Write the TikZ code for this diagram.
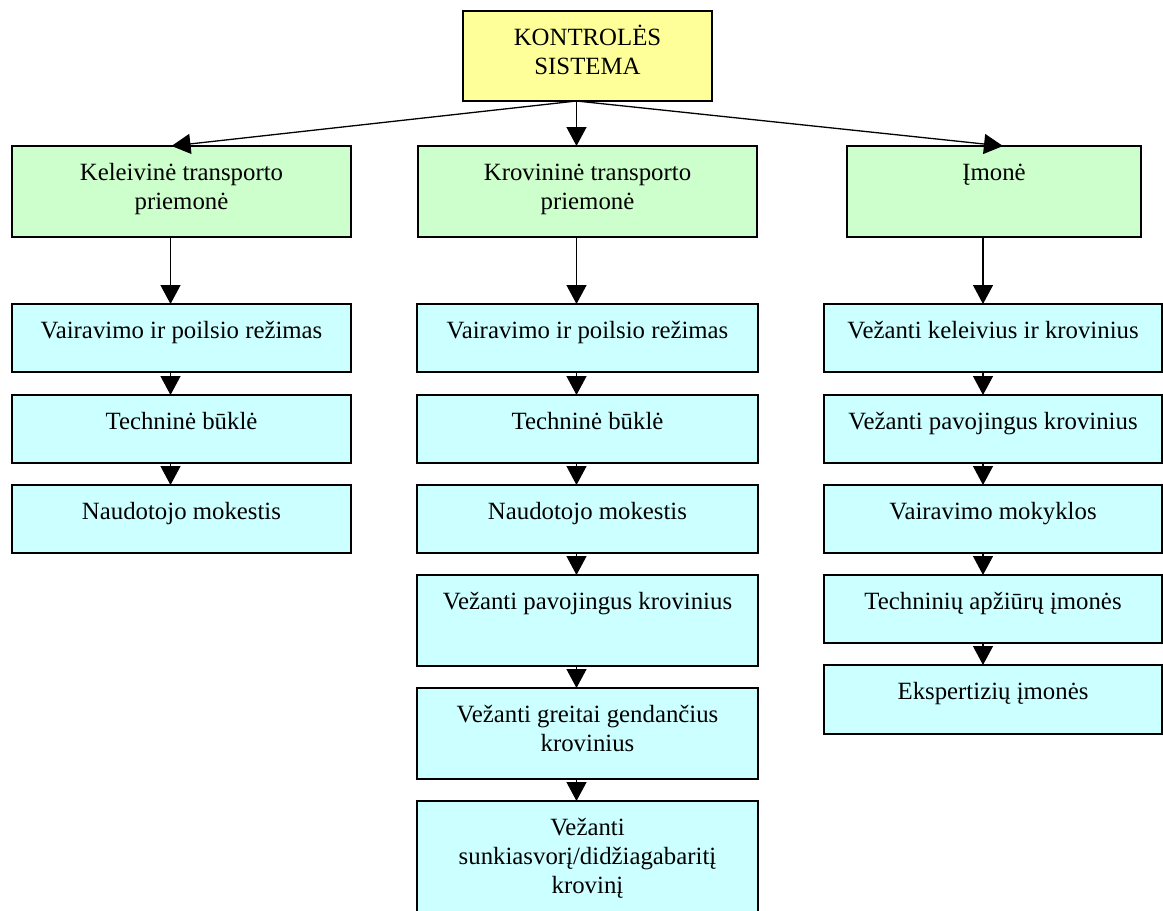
\documentclass[tikz,border=0pt]{standalone}
\usepackage{fontspec}
\setmainfont{Liberation Serif}
\usetikzlibrary{arrows.meta,calc}
\definecolor{yelc}{HTML}{FFFF99}
\definecolor{grnc}{HTML}{CCFFCC}
\definecolor{cync}{HTML}{CCFFFF}
\newcommand{\boxtxt}[3]{\parbox[c][#2][t]{#1}{\centering\rule{0pt}{34pt}#3\par}}
\tikzset{
  basebox/.style={draw=black, line width=1.3pt, inner sep=0pt, outer sep=0pt, anchor=north west},
  topbox/.style={basebox, fill=yelc},
  gbox/.style={basebox, fill=grnc},
  cbox/.style={basebox, fill=cync},
  arr/.style={-{Triangle[length=19pt,width=20pt]}, line width=1.3pt}
}
\begin{document}
\begin{tikzpicture}[x=1pt,y=-1pt,font=\fontsize{24.8pt}{29pt}\selectfont]
\clip (0,0) rectangle (1163,911);
\fill[white] (0,0) rectangle (1163,911);
% top
\node[topbox] (top) at (463,11) {\boxtxt{249pt}{90pt}{KONTROLĖS\\SISTEMA}};
% second level
\node[gbox] (g1) at (12,146) {\boxtxt{339pt}{91pt}{Keleivinė transporto\\priemonė}};
\node[gbox] (g2) at (418,146) {\boxtxt{339pt}{91pt}{Krovininė transporto\\priemonė}};
\node[gbox] (g3) at (847,146) {\boxtxt{294pt}{91pt}{Įmonė}};
% left column
\node[cbox] (a1) at (12,304) {\boxtxt{339pt}{68pt}{Vairavimo ir poilsio režimas}};
\node[cbox] (a2) at (12,395) {\boxtxt{339pt}{68pt}{Techninė būklė}};
\node[cbox] (a3) at (12,485) {\boxtxt{339pt}{68pt}{Naudotojo mokestis}};
% middle column
\node[cbox] (b1) at (417,304) {\boxtxt{341pt}{68pt}{Vairavimo ir poilsio režimas}};
\node[cbox] (b2) at (417,395) {\boxtxt{341pt}{68pt}{Techninė būklė}};
\node[cbox] (b3) at (417,485) {\boxtxt{341pt}{68pt}{Naudotojo mokestis}};
\node[cbox] (b4) at (417,575) {\boxtxt{341pt}{91pt}{Vežanti pavojingus krovinius}};
\node[cbox] (b5) at (417,688) {\boxtxt{341pt}{91pt}{Vežanti greitai gendančius\\krovinius}};
\node[cbox] (b6) at (417,801) {\boxtxt{341pt}{140pt}{Vežanti\\sunkiasvorį/didžiagabaritį\\krovinį}};
% right column
\node[cbox] (c1) at (824,304) {\boxtxt{338pt}{68pt}{Vežanti keleivius ir krovinius}};
\node[cbox] (c2) at (824,395) {\boxtxt{338pt}{68pt}{Vežanti pavojingus krovinius}};
\node[cbox] (c3) at (824,485) {\boxtxt{338pt}{68pt}{Vairavimo mokyklos}};
\node[cbox] (c4) at (824,575) {\boxtxt{338pt}{68pt}{Techninių apžiūrų įmonės}};
\node[cbox] (c5) at (824,665) {\boxtxt{338pt}{69pt}{Ekspertizių įmonės}};
% connectors from top
\draw[arr] ([xshift=-11pt]top.south) -- ([xshift=-10pt]g1.north);
\draw[arr] ([xshift=-11pt]top.south) -- ([xshift=-11pt]g2.north);
\draw[arr] ([xshift=-11pt]top.south) -- ([xshift=9pt]g3.north);
% left chain
\draw[arr] ([xshift=-11pt]g1.south) -- ([xshift=-11pt]a1.north);
\draw[arr] ([xshift=-11pt]a1.south) -- ([xshift=-11pt]a2.north);
\draw[arr] ([xshift=-11pt]a2.south) -- ([xshift=-11pt]a3.north);
% middle chain
\draw[arr] ([xshift=-11pt]g2.south) -- ([xshift=-11pt]b1.north);
\draw[arr] ([xshift=-11pt]b1.south) -- ([xshift=-11pt]b2.north);
\draw[arr] ([xshift=-11pt]b2.south) -- ([xshift=-11pt]b3.north);
\draw[arr] ([xshift=-11pt]b3.south) -- ([xshift=-11pt]b4.north);
\draw[arr] ([xshift=-11pt]b4.south) -- ([xshift=-11pt]b5.north);
\draw[arr] ([xshift=-11pt]b5.south) -- ([xshift=-11pt]b6.north);
% right chain
\draw[arr] ([xshift=-11pt]g3.south) -- ([xshift=-10pt]c1.north);
\draw[arr] ([xshift=-10pt]c1.south) -- ([xshift=-10pt]c2.north);
\draw[arr] ([xshift=-10pt]c2.south) -- ([xshift=-10pt]c3.north);
\draw[arr] ([xshift=-10pt]c3.south) -- ([xshift=-10pt]c4.north);
\draw[arr] ([xshift=-10pt]c4.south) -- ([xshift=-10pt]c5.north);
\end{tikzpicture}
\end{document}
